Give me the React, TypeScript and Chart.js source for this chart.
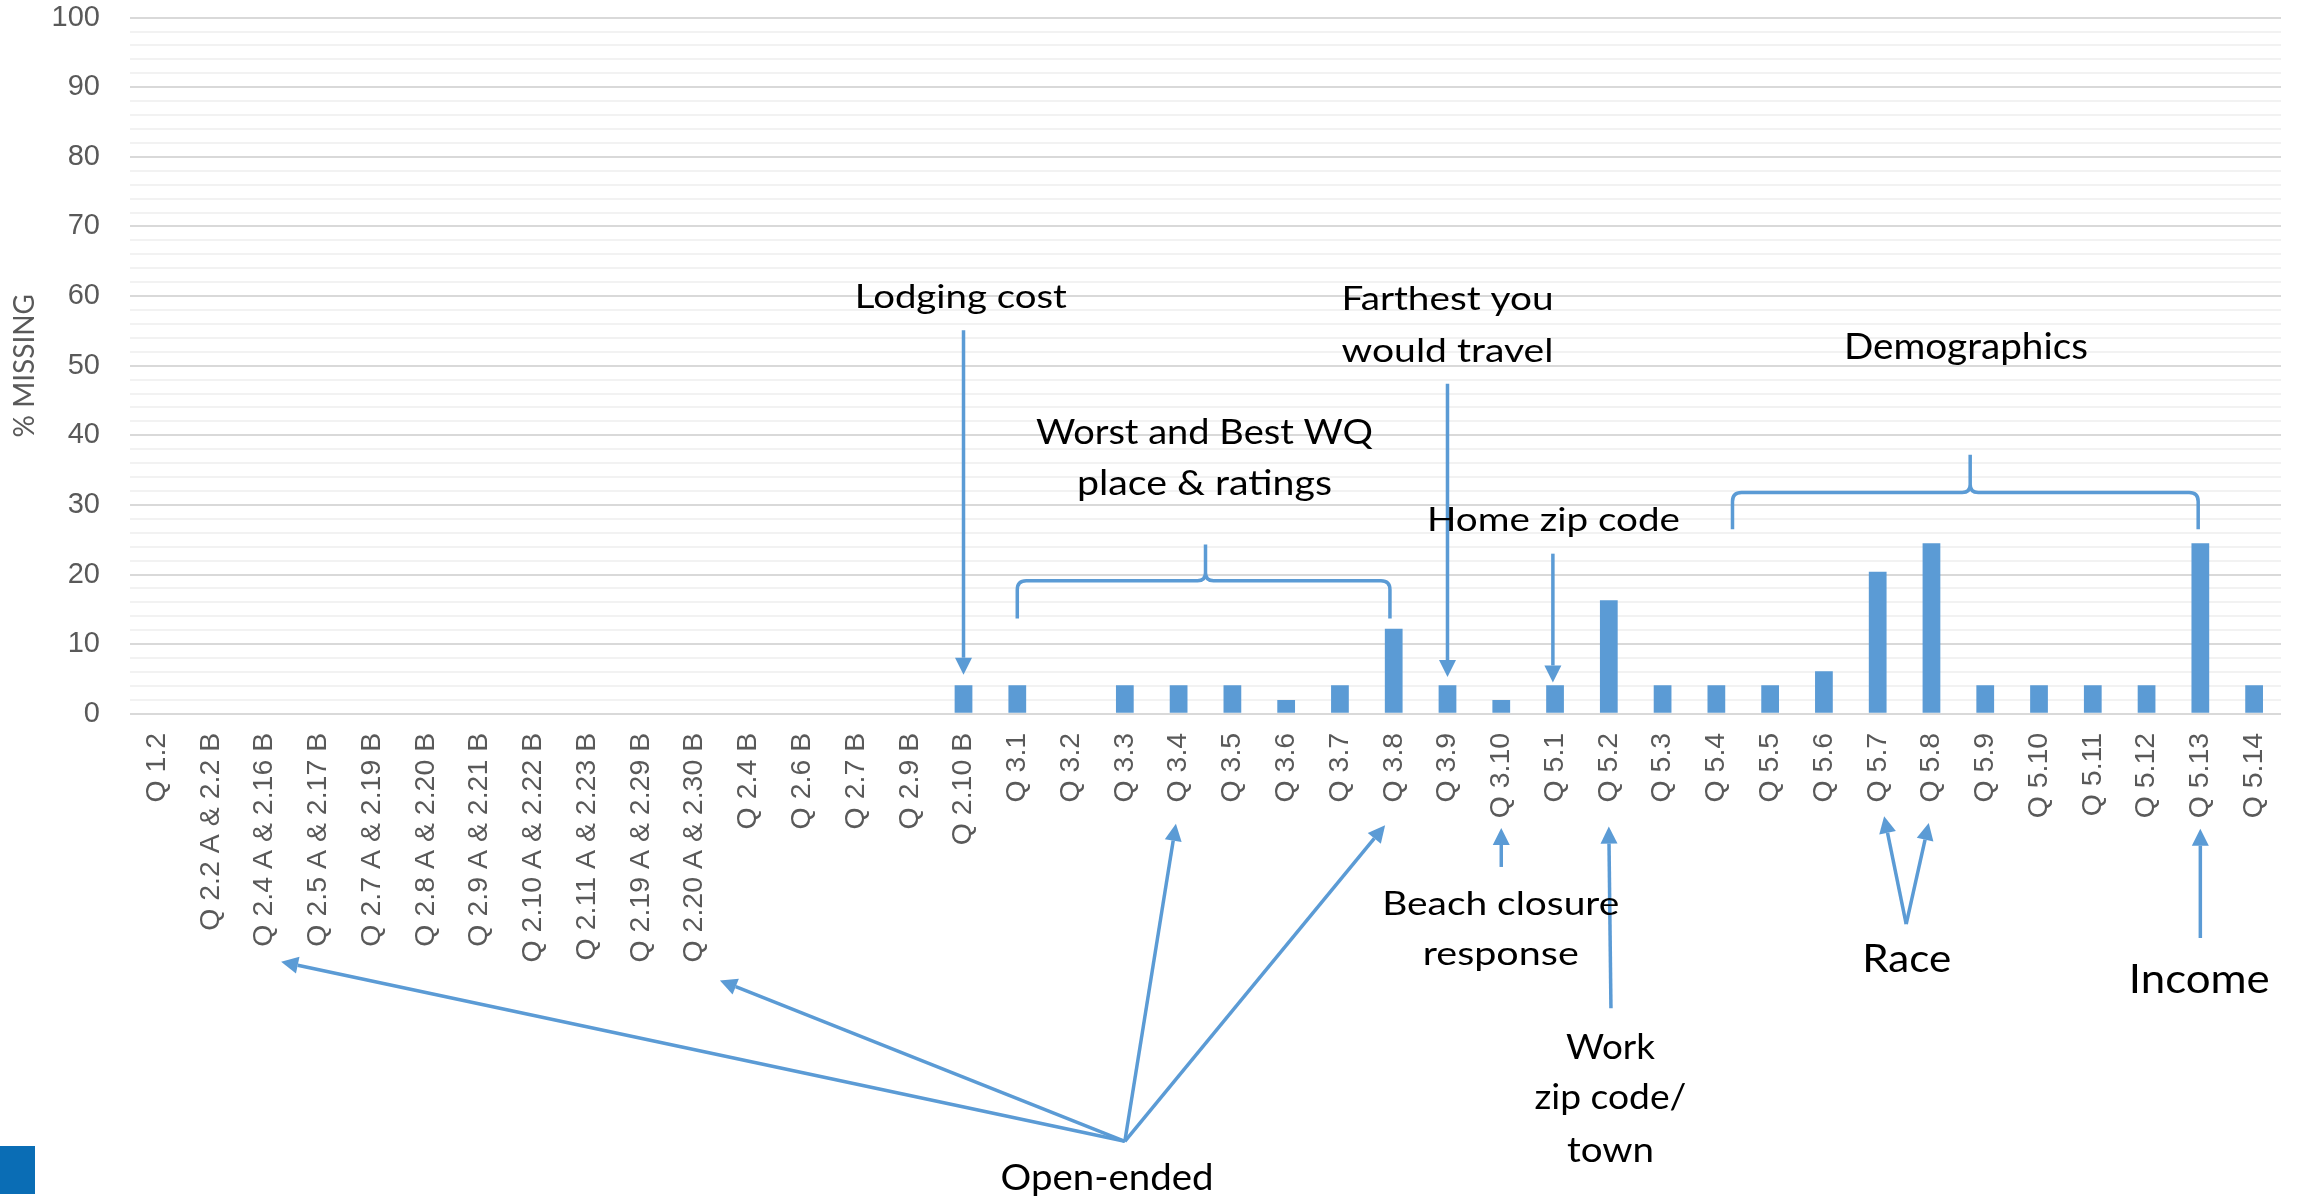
import React, { useEffect, useRef } from "react";
import { Chart, registerables } from "chart.js";

Chart.register(...registerables);

// ---------- data ----------
const categories = [
  "Q 1.2", "Q 2.2 A & 2.2 B", "Q 2.4 A & 2.16 B", "Q 2.5 A & 2.17 B", "Q 2.7 A & 2.19 B",
  "Q 2.8 A & 2.20 B", "Q 2.9 A & 2.21 B", "Q 2.10 A & 2.22 B", "Q 2.11 A & 2.23 B",
  "Q 2.19 A & 2.29 B", "Q 2.20 A & 2.30 B", "Q 2.4 B", "Q 2.6 B", "Q 2.7 B", "Q 2.9 B",
  "Q 2.10 B", "Q 3.1", "Q 3.2", "Q 3.3", "Q 3.4", "Q 3.5", "Q 3.6", "Q 3.7", "Q 3.8",
  "Q 3.9", "Q 3.10", "Q 5.1", "Q 5.2", "Q 5.3", "Q 5.4", "Q 5.5", "Q 5.6", "Q 5.7",
  "Q 5.8", "Q 5.9", "Q 5.10", "Q 5.11", "Q 5.12", "Q 5.13", "Q 5.14",
];

const percentMissing = [
  0, 0, 0, 0, 0, 0, 0, 0, 0, 0, 0, 0, 0, 0, 0,
  4.1, 4.1, 0, 4.1, 4.1, 4.1, 2.0, 4.1, 12.2, 4.1, 2.0,
  4.1, 16.3, 4.1, 4.1, 4.1, 6.1, 20.4, 24.5, 4.1, 4.1, 4.1, 4.1, 24.5, 4.1,
];

const yAxisTitle = "% MISSING";

// ---------- annotations (category index / value units) ----------
const textNotes = [
  { lines: ["Lodging cost"], x: 14.95, base: [58.3], size: 33, widths: [212] },
  { lines: ["Worst and Best WQ", "place & ratings"], x: 19.48, base: [38.7, 31.4], size: 35, widths: [337, 255] },
  { lines: ["Farthest you", "would travel"], x: 24.0, base: [58.0, 50.6], size: 33, widths: [212, 212] },
  { lines: ["Home zip code"], x: 25.97, base: [26.2], size: 33, widths: [253] },
  { lines: ["Demographics"], x: 33.64, base: [50.9], size: 36, widths: [244] },
  { lines: ["Beach closure", "response"], x: 24.99, base: [-28.9, -36.1], size: 33, widths: [237, 156] },
  { lines: ["Work", "zip code/", "town"], x: 27.03, base: [-49.6, -56.7, -64.4], size: 35, widths: [89, 152, 87] },
  { lines: ["Race"], x: 32.54, base: [-37.1], size: 39.5, widths: [89] },
  { lines: ["Income"], x: 37.98, base: [-40.1], size: 41, widths: [141] },
  { lines: ["Open-ended"], x: 17.67, base: [-68.4], size: 37, widths: [213] },
];

const arrowNotes = [
  { from: [15, 55.1], to: [15, 5.6] },
  { from: [24, 47.4], to: [24, 5.3] },
  { from: [25.96, 23.0], to: [25.96, 4.5] },
  { from: [25, -22.0], to: [25, -16.4] },
  { from: [27.04, -42.3], to: [27.0, -16.2] },
  { from: [32.53, -30.2], to: [32.12, -14.7] },
  { from: [32.53, -30.2], to: [32.95, -15.7] },
  { from: [38, -32.2], to: [38, -16.5] },
  { from: [18.0, -61.4], to: [2.31, -35.6] },
  { from: [18.0, -61.4], to: [10.47, -38.3] },
  { from: [18.0, -61.4], to: [18.95, -15.8] },
  { from: [18.0, -61.4], to: [22.84, -16.0] },
];

const braceNotes = [
  { left: 16.0, right: 22.93, mid: 19.5, bottom: 13.7, line: 19.1, top: 24.3 },
  { left: 29.3, right: 37.96, mid: 33.72, bottom: 26.5, line: 31.8, top: 37.2 },
];

const BAR_COLOR = "#5B9BD5";
const NOTE_COLOR = "#5B9BD5";
const AXIS_TEXT = "#595959";

function drawArrow(ctx: CanvasRenderingContext2D, x1: number, y1: number, x2: number, y2: number) {
  const ang = Math.atan2(y2 - y1, x2 - x1);
  const hl = 17;
  const hw = 8.5;
  const bx = x2 - hl * Math.cos(ang);
  const by = y2 - hl * Math.sin(ang);
  ctx.beginPath();
  ctx.moveTo(x1, y1);
  ctx.lineTo(bx, by);
  ctx.stroke();
  ctx.beginPath();
  ctx.moveTo(x2, y2);
  ctx.lineTo(bx + hw * Math.sin(ang), by - hw * Math.cos(ang));
  ctx.lineTo(bx - hw * Math.sin(ang), by + hw * Math.cos(ang));
  ctx.closePath();
  ctx.fill();
}

function drawBrace(ctx: CanvasRenderingContext2D, xl: number, xr: number, xm: number, yb: number, yl: number, yt: number) {
  const r = 9;
  const rc = 8;
  ctx.beginPath();
  ctx.moveTo(xl, yb);
  ctx.lineTo(xl, yl + r);
  ctx.quadraticCurveTo(xl, yl, xl + r, yl);
  ctx.lineTo(xm - rc, yl);
  ctx.quadraticCurveTo(xm, yl, xm, yl - rc);
  ctx.lineTo(xm, yt);
  ctx.moveTo(xm, yt);
  ctx.lineTo(xm, yl - rc);
  ctx.quadraticCurveTo(xm, yl, xm + rc, yl);
  ctx.lineTo(xr - r, yl);
  ctx.quadraticCurveTo(xr, yl, xr, yl + r);
  ctx.lineTo(xr, yb);
  ctx.stroke();
}

function drawText(ctx: CanvasRenderingContext2D, text: string, cx: number, by: number, size: number, targetW: number) {
  ctx.save();
  ctx.font = `${size}px Lato, "Open Sans", sans-serif`;
  const w = ctx.measureText(text).width;
  const sx = w > 0 ? targetW / w : 1;
  ctx.translate(cx, by);
  ctx.scale(sx, 1);
  ctx.textAlign = "center";
  ctx.textBaseline = "alphabetic";
  ctx.fillStyle = "#000000";
  ctx.fillText(text, 0, 0);
  ctx.restore();
}

const notesPlugin = {
  id: "notes",
  afterDraw(chart: any) {
    const ctx: CanvasRenderingContext2D = chart.ctx;
    const xs = chart.scales.x;
    const ys = chart.scales.y;
    const X = (i: number) => xs.getPixelForValue(i);
    const Y = (v: number) => ys.getPixelForValue(v);
    ctx.save();
    ctx.strokeStyle = NOTE_COLOR;
    ctx.fillStyle = NOTE_COLOR;
    ctx.lineWidth = 3.5;
    ctx.lineJoin = "round";
    for (const a of arrowNotes) {
      drawArrow(ctx, X(a.from[0]), Y(a.from[1]), X(a.to[0]), Y(a.to[1]));
    }
    for (const b of braceNotes) {
      drawBrace(ctx, X(b.left), X(b.right), X(b.mid), Y(b.bottom), Y(b.line), Y(b.top));
    }
    for (const t of textNotes) {
      t.lines.forEach((line, k) => {
        drawText(ctx, line, X(t.x), Y(t.base[k]), t.size, t.widths[k]);
      });
    }
    ctx.restore();
  },
};

export default function App() {
  const canvasRef = useRef<HTMLCanvasElement | null>(null);

  useEffect(() => {
    if (!canvasRef.current) return;
    const chart = new Chart(canvasRef.current, {
      type: "bar",
      data: {
        labels: categories,
        datasets: [
          {
            label: yAxisTitle,
            data: percentMissing,
            backgroundColor: BAR_COLOR,
            borderWidth: 0,
            categoryPercentage: 0.33,
            barPercentage: 1,
          },
        ],
      },
      options: {
        responsive: false,
        animation: false,
        devicePixelRatio: 1,
        layout: { padding: { top: 17.6, right: 17, left: 0, bottom: 0 } },
        plugins: {
          legend: { display: false },
          tooltip: { enabled: false },
        },
        scales: {
          x: {
            grid: { display: false, drawTicks: false },
            border: { display: false },
            ticks: {
              autoSkip: false,
              minRotation: 90,
              maxRotation: 90,
              padding: 19,
              color: AXIS_TEXT,
              font: { family: '"Liberation Sans", Arial, sans-serif', size: 28.5 },
            },
            afterFit: (s: any) => {
              s.height = 484.2;
              s.paddingLeft = 0;
              s.paddingRight = 0;
            },
          },
          y: {
            min: 0,
            max: 100,
            grid: {
              drawTicks: false,
              lineWidth: 2,
              color: (c: any) => (c.tick && c.tick.value % 10 === 0 ? "#D9D9D9" : "#F2F2F2"),
            },
            border: { display: false },
            ticks: {
              stepSize: 2,
              maxTicksLimit: 100,
              autoSkip: false,
              padding: 30,
              color: AXIS_TEXT,
              font: { family: '"Liberation Sans", Arial, sans-serif', size: 29 },
              callback: (v: any) => (Number(v) % 10 === 0 ? String(v) : ""),
            },
            title: {
              display: true,
              text: yAxisTitle,
              color: AXIS_TEXT,
              font: { family: 'Lato, "Open Sans", sans-serif', size: 28 },
              padding: { top: 8, bottom: 0 },
            },
            afterFit: (s: any) => {
              s.width = 130;
              s.paddingTop = 0;
              s.paddingBottom = 0;
            },
          },
        },
      },
      plugins: [notesPlugin],
    });
    return () => chart.destroy();
  }, []);

  return (
    <div style={{ position: "absolute", left: 0, top: 0, width: 2298, height: 1198, background: "#ffffff" }}>
      <canvas ref={canvasRef} width={2298} height={1198} style={{ display: "block" }} />
      <div style={{ position: "absolute", left: 0, top: 1146, width: 35, height: 48, background: "#0A6DB5" }} />
    </div>
  );
}
